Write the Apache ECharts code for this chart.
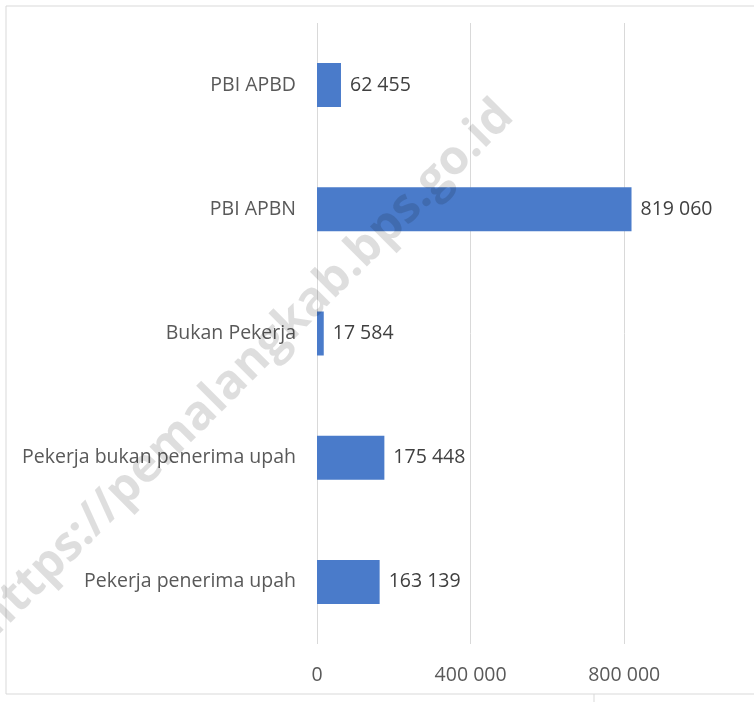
<!DOCTYPE html>
<html>
<head>
<meta charset="utf-8">
<script src="https://cdn.jsdelivr.net/npm/echarts@6/dist/echarts.min.js"></script>
<style>
  html, body { margin: 0; padding: 0; background: #fff; }
  #chart { width: 754px; height: 702px; }
</style>
</head>
<body>
<div id="chart"></div>
<script>
// kategori dari bawah ke atas
const categories = [
  "Pekerja penerima upah",
  "Pekerja bukan penerima upah",
  "Bukan Pekerja",
  "PBI APBN",
  "PBI APBD"
];
const values = [163139, 175448, 17584, 819060, 62455];
const axisMax = 1000000;
const axisStep = 400000;

const fmt = (v) => String(v).replace(/\B(?=(\d{3})+(?!\d))/g, " ");

const chart = echarts.init(document.getElementById("chart"));

const option = {
  animation: false,
  textStyle: { fontFamily: "Open Sans" },
  grid: { left: 317, right: 53, top: 23, bottom: 58 },
  xAxis: {
    type: "value",
    min: 0,
    max: axisMax,
    interval: axisStep,
    axisLine: { show: false },
    axisTick: { show: false },
    axisLabel: {
      color: "#595959",
      fontSize: 19.5,
      margin: 21,
      showMaxLabel: false,
      formatter: (v) => fmt(v)
    },
    splitLine: { show: true, showMaxLine: false, lineStyle: { color: "#d9d9d9", width: 1 } }
  },
  yAxis: {
    type: "category",
    data: categories,
    axisLine: { show: false },
    axisTick: { show: false },
    axisLabel: { color: "#595959", fontSize: 19.5, margin: 21 }
  },
  series: [
    {
      type: "bar",
      data: values,
      barWidth: 44,
      itemStyle: { color: "#4a7bca" },
      label: {
        show: true,
        position: "right",
        distance: 9,
        color: "#404040",
        fontSize: 19.5,
        formatter: (p) => fmt(p.value)
      }
    }
  ],
  graphic: [
    {
      type: "text",
      x: 246,
      y: 368,
      rotation: Math.PI / 4,
      z: 100,
      style: {
        text: "https://pemalangkab.bps.go.id",
        font: "bold 48px 'Open Sans'",
        fill: "rgba(0,0,0,0.13)",
        textAlign: "center",
        textVerticalAlign: "middle"
      }
    },
    { type: "line", shape: { x1: 6, y1: 6, x2: 754, y2: 6 }, style: { stroke: "#d9d9d9", lineWidth: 1 } },
    { type: "line", shape: { x1: 6, y1: 6, x2: 6, y2: 694 }, style: { stroke: "#d9d9d9", lineWidth: 1 } },
    { type: "line", shape: { x1: 6, y1: 694, x2: 754, y2: 694 }, style: { stroke: "#d9d9d9", lineWidth: 1 } },
    { type: "line", shape: { x1: 594, y1: 694, x2: 594, y2: 702 }, style: { stroke: "#d9d9d9", lineWidth: 1 } }
  ]
};

chart.setOption(option);
window.addEventListener("resize", () => chart.resize());
</script>
</body>
</html>
